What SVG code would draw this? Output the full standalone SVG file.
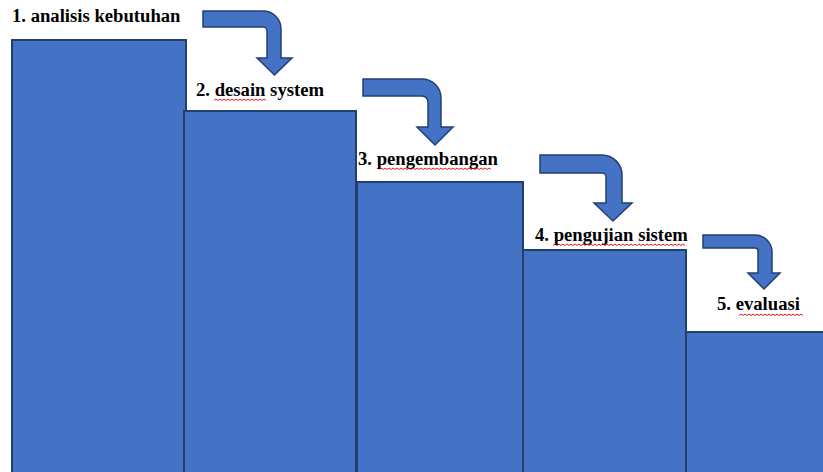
<svg xmlns="http://www.w3.org/2000/svg" width="823" height="472" viewBox="0 0 823 472">
<style>
.step{fill:#4472C4;stroke:#22406F;stroke-width:2}
.arr{fill:#4472C4;stroke:#22406F;stroke-width:1.5;stroke-linejoin:miter}
.lbl{font-family:"Liberation Serif","Times New Roman",serif;font-weight:bold;font-size:18.67px;fill:#000}
.sq{fill:none;stroke:#E00000;stroke-width:0.9}
</style>
<rect width="823" height="472" fill="#fff"/>
<g id="step1">
<rect class="step" x="12" y="40" width="174" height="440"/>
<text class="lbl" x="12" y="22">1. analisis kebutuhan</text>
</g>
<g id="step2">
<rect class="step" x="184" y="111" width="172" height="370"/>
<text class="lbl" x="196" y="96">2. desain system</text>
<path class="sq" d="M214,100.5 l2,-1.5 2,1.5 l2,-1.5 2,1.5 l2,-1.5 2,1.5 l2,-1.5 2,1.5 l2,-1.5 2,1.5 l2,-1.5 2,1.5 l2,-1.5 2,1.5 l2,-1.5 2,1.5 l2,-1.5 2,1.5 l2,-1.5 2,1.5 l2,-1.5 2,1.5 l2,-1.5 2,1.5 l2,-1.5 2,1.5"/>
</g>
<g id="step3">
<rect class="step" x="357" y="182" width="166" height="300"/>
<text class="lbl" x="358" y="165">3. pengembangan</text>
<path class="sq" d="M379,169.5 l2,-1.5 2,1.5 l2,-1.5 2,1.5 l2,-1.5 2,1.5 l2,-1.5 2,1.5 l2,-1.5 2,1.5 l2,-1.5 2,1.5 l2,-1.5 2,1.5 l2,-1.5 2,1.5 l2,-1.5 2,1.5 l2,-1.5 2,1.5 l2,-1.5 2,1.5 l2,-1.5 2,1.5 l2,-1.5 2,1.5 l2,-1.5 2,1.5 l2,-1.5 2,1.5 l2,-1.5 2,1.5 l2,-1.5 2,1.5 l2,-1.5 2,1.5 l2,-1.5 2,1.5 l2,-1.5 2,1.5 l2,-1.5 2,1.5 l2,-1.5 2,1.5 l2,-1.5 2,1.5 l2,-1.5 2,1.5 l2,-1.5 2,1.5 l2,-1.5 2,1.5 l2,-1.5 2,1.5 l2,-1.5 2,1.5"/>
</g>
<g id="step4">
<rect class="step" x="523" y="250" width="163" height="230"/>
<text class="lbl" x="535" y="241">4. pengujian sistem</text>
<path class="sq" d="M553,245.5 l2,-1.5 2,1.5 l2,-1.5 2,1.5 l2,-1.5 2,1.5 l2,-1.5 2,1.5 l2,-1.5 2,1.5 l2,-1.5 2,1.5 l2,-1.5 2,1.5 l2,-1.5 2,1.5 l2,-1.5 2,1.5 l2,-1.5 2,1.5 l2,-1.5 2,1.5 l2,-1.5 2,1.5 l2,-1.5 2,1.5 l2,-1.5 2,1.5 l2,-1.5 2,1.5 l2,-1.5 2,1.5 l2,-1.5 2,1.5 l2,-1.5 2,1.5 l2,-1.5 2,1.5 l2,-1.5 2,1.5 l2,-1.5 2,1.5 l2,-1.5 2,1.5 l2,-1.5 2,1.5 l2,-1.5 2,1.5 l2,-1.5 2,1.5 l2,-1.5 2,1.5 l2,-1.5 2,1.5 l2,-1.5 2,1.5 l2,-1.5 2,1.5 l2,-1.5 2,1.5 l2,-1.5 2,1.5 l2,-1.5 2,1.5 l2,-1.5 2,1.5"/>
</g>
<g id="step5">
<rect class="step" x="686" y="332" width="150" height="150"/>
<text class="lbl" x="717" y="310">5. evaluasi</text>
<path class="sq" d="M739,315.5 l2,-1.5 2,1.5 l2,-1.5 2,1.5 l2,-1.5 2,1.5 l2,-1.5 2,1.5 l2,-1.5 2,1.5 l2,-1.5 2,1.5 l2,-1.5 2,1.5 l2,-1.5 2,1.5 l2,-1.5 2,1.5 l2,-1.5 2,1.5 l2,-1.5 2,1.5 l2,-1.5 2,1.5 l2,-1.5 2,1.5 l2,-1.5 2,1.5 l2,-1.5 2,1.5 l2,-1.5 2,1.5"/>
</g>
<g id="connectors">
<path class="arr" d="M203,11 H263 A18,18 0 0 1 281,29 V58 H292 L274.5,75 L257,58 H267 V31 A4,4 0 0 0 263,27 H203 Z"/>
<path class="arr" d="M363,79 H422 A19,19 0 0 1 441,98 V127 H453 L435,145 L417,127 H428 V102 A6,6 0 0 0 422,96 H363 Z"/>
<path class="arr" d="M540,155 H602 A20,20 0 0 1 622,175 V203 H632 L613,221 L594,203 H606 V177 A4,4 0 0 0 602,173 H540 Z"/>
<path class="arr" d="M703,235 H755 A17,17 0 0 1 772,252 V273 H780 L764,289 L748,273 H758 V251 A3,3 0 0 0 755,248 H703 Z"/>
</g>
</svg>
